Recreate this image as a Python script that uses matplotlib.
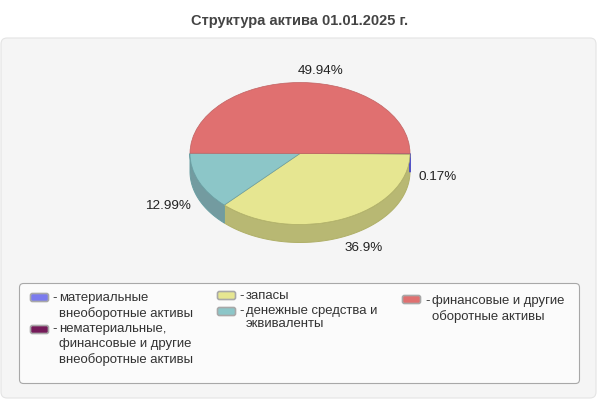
import numpy as np
import matplotlib
matplotlib.use('Agg')
import matplotlib.pyplot as plt
from matplotlib.patches import FancyBboxPatch

plt.rcParams['font.family'] = ['Liberation Sans', 'DejaVu Sans']

title = 'Структура актива 01.01.2025 г.'
values = [0.17, 0.0, 36.9, 12.99, 49.94]
value_labels = ['0.17%', '', '36.9%', '12.99%', '49.94%']
names = ['материальные\nвнеоборотные активы',
         'нематериальные,\nфинансовые и другие\nвнеоборотные активы',
         'запасы',
         'денежные средства и\nэквиваленты',
         'финансовые и другие\nоборотные активы']
colors = ['#7b7bee', '#751a59', '#e6e691', '#8cc6c8', '#e07070']
side_colors = ['#5f5fd0', '#5a1445', '#b8b873', '#739ba0', '#b35a5a']
edge_colors = ['#5050c8', '#5a1445', '#b0b068', '#6a9ea2', '#c06262']

fig = plt.figure(figsize=(6, 4), dpi=100)

# whole picture in pixel coords, for the panels and the text
bg = fig.add_axes([0, 0, 1, 1])
bg.set_xlim(0, 600)
bg.set_ylim(400, 0)
bg.axis('off')


def round_box(x0, y0, x1, y1, r, face, edge, lw=0.8):
    bg.add_patch(FancyBboxPatch((x0 + r, y0 + r), x1 - x0 - 2 * r, y1 - y0 - 2 * r,
                                boxstyle='round,pad=%s,rounding_size=%s' % (r, r),
                                facecolor=face, edgecolor=edge, linewidth=lw))


bg.text(300, 21, title, ha='center', va='center', fontsize=10.5, fontweight='bold', color='#444444')
round_box(1, 38, 596, 398, 6, '#f5f5f5', '#e4e4e4')
round_box(19.5, 283.5, 579.5, 383.5, 4, '#fbfbfb', '#a8a8a8')

# pie axes, one data unit = the radius of the ellipse
cx, cy, rx, ry = 300, 153.5, 110, 71
depth = 18 / ry
ax = fig.add_axes([(cx - rx) / 600, 1 - (cy + ry) / 400, 2 * rx / 600, 2 * ry / 400])
ax.patch.set_alpha(0)

# side of the disc, front half only
start = 0.0
for i, (v, side, edge) in enumerate(zip(values, side_colors, edge_colors)):
    end = start + v * 3.6
    a0, a1 = start, min(end, 180.0)
    if a1 > a0:
        t = np.radians(np.linspace(a0, a1, 80))
        xs = np.cos(t)
        ys = -np.sin(t)
        ax.fill(np.r_[xs, xs[::-1]], np.r_[ys, ys[::-1] - depth], facecolor=side,
                edgecolor=edge, linewidth=0.7, clip_on=False, zorder=1 if i else 1.5)
    start = end

wedges, _ = ax.pie(values, colors=colors, startangle=0, counterclock=False, radius=1,
                   wedgeprops={'linewidth': 0.5})
for w, edge in zip(wedges, edge_colors):
    w.set_edgecolor(edge)
    w.set_zorder(2)
    w.set_clip_on(False)
ax.set_aspect('auto')
ax.set_xlim(-1, 1)
ax.set_ylim(-1, 1)
ax.axis('off')

# value labels
label_pos = [(438, 177), None, (364, 248), (168, 206), (321, 71)]
for lab, pos in zip(value_labels, label_pos):
    if pos:
        bg.text(pos[0], pos[1], lab, ha='center', va='center', fontsize=9.7, color='#222222')

# legend
legend_pos = [(30, 293, 59, 292), (30, 325, 59, 323), (217, 291, 246, 290),
              (217, 307, 246, 305), (402, 295, 432, 295)]
spacing = [1.32, 1.32, 1.0, 1.08, 1.32]
for i, name in enumerate(names):
    sx, sy, tx, ty = legend_pos[i]
    round_box(sx + 0.5, sy + 0.5, sx + 18.5, sy + 8.5, 2, colors[i], '#a8a8a8', lw=1.2)
    bg.text(tx - 7, ty, '-', ha='left', va='top', fontsize=9.45, color='#333333')
    bg.text(tx, ty, name, ha='left', va='top', fontsize=9.45, color='#333333', linespacing=spacing[i])

fig.savefig('out.png', dpi=100)
